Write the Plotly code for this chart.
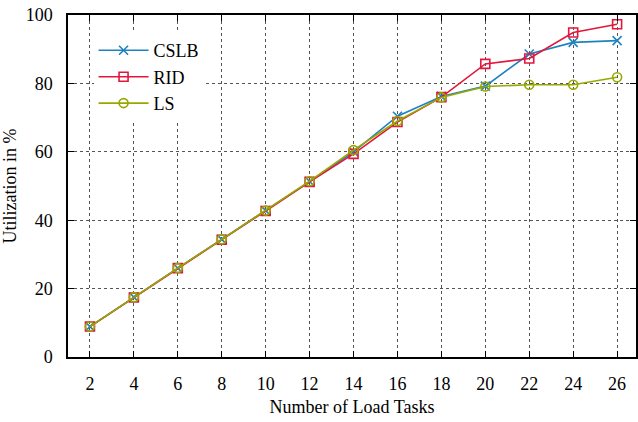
import plotly.graph_objects as go

tasks = [2, 4, 6, 8, 10, 12, 14, 16, 18, 20, 22, 24, 26]
cslb = [8.9, 17.5, 26.0, 34.4, 42.8, 51.3, 60.0, 70.4, 76.2, 79.2, 88.6, 92.0, 92.5]
rid = [8.9, 17.4, 26.0, 34.3, 42.7, 51.2, 59.4, 68.7, 76.0, 85.7, 87.3, 94.9, 97.3]
ls = [8.9, 17.5, 26.0, 34.4, 42.8, 51.4, 60.5, 69.0, 75.9, 79.1, 79.6, 79.6, 81.8]

series = [
    ("CSLB", cslb, "#1f82c0", "x-thin-open"),
    ("RID", rid, "#e3163b", "square-open"),
    ("LS", ls, "#98a800", "circle-open"),
]

FONT = "Liberation Serif"
FS = 18

fig = go.Figure()
for name, vals, color, sym in series:
    fig.add_trace(go.Scatter(
        x=tasks, y=vals, name=name, mode="lines+markers",
        line=dict(color=color, width=1.6),
        marker=dict(symbol=sym, size=9, color=color,
                    line=dict(color=color, width=1.6)),
    ))

axis_common = dict(
    showline=True, linecolor="black", linewidth=1.5, mirror="ticks",
    ticks="inside", ticklen=6, tickcolor="black", tickwidth=1,
    showgrid=True, gridcolor="#555555", gridwidth=1, griddash="dot",
    zeroline=False,
    tickfont=dict(family=FONT, size=FS, color="black"),
)

fig.update_layout(
    width=638, height=422,
    margin=dict(l=68, r=0, t=15, b=65),
    paper_bgcolor="white", plot_bgcolor="white",
    font=dict(family=FONT, size=FS, color="black"),
    xaxis=dict(range=[1, 26.86], tickvals=tasks, ticklabelstandoff=10,
               title=dict(text="Number of Load Tasks", standoff=7,
                          font=dict(family=FONT, size=FS)),
               **axis_common),
    yaxis=dict(range=[0, 100], tickvals=[0, 20, 40, 60, 80, 100],
               ticklabelstandoff=10,
               title=dict(text="Utilization in %", standoff=5,
                          font=dict(family=FONT, size=FS)),
               **axis_common),
    legend=dict(x=0.045, y=0.95, xanchor="left", yanchor="top",
                bgcolor="white", borderwidth=0,
                font=dict(family=FONT, size=FS),
                itemwidth=50, tracegroupgap=0),
    showlegend=True,
)

fig.write_html("out.html")
